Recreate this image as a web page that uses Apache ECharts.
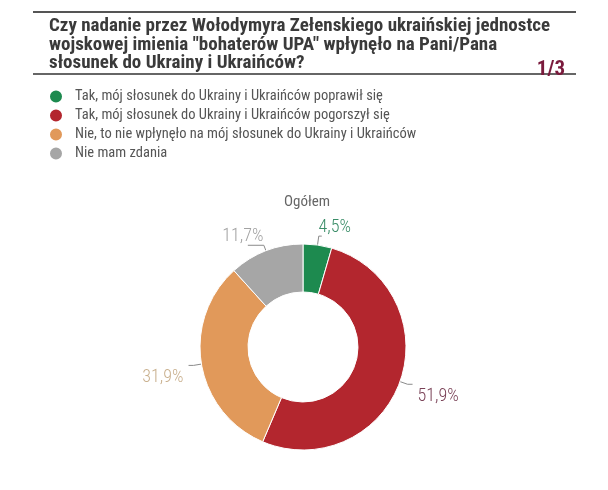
<!DOCTYPE html>
<html>
<head>
<meta charset="utf-8">
<script src="https://cdn.jsdelivr.net/npm/echarts@6/dist/echarts.min.js"></script>
<style>
  html, body { margin: 0; padding: 0; background: #fff; }
  #chart { width: 608px; height: 490px; }
</style>
</head>
<body>
<div id="chart"></div>
<script>
const categories = [
  'Tak, mój słosunek do Ukrainy i Ukraińców poprawił się',
  'Tak, mój słosunek do Ukrainy i Ukraińców pogorszył się',
  'Nie, to nie wpłynęło na mój słosunek do Ukrainy i Ukraińców',
  'Nie mam zdania'
]
const values = [4.5, 51.9, 31.9, 11.7]
const colors = ['#1d8a4f', '#b3262e', '#e1995a', '#a6a6a6']
const labelColors = ['#3a8d68', '#7a4257', '#c9b08e', '#a3a3a3']

const titleText = 'Czy nadanie przez Wołodymyra Zełenskiego ukraińskiej jednostce\nwojskowej imienia "bohaterów UPA" wpłynęło na Pani/Pana\nsłosunek do Ukrainy i Ukraińców?'
const pageText = '1/3'
const groupName = 'Ogółem'

const font = '"Liberation Sans Narrow", "Roboto Condensed", "Liberation Sans", sans-serif'

// label line lengths per slice (top labels sit above their tick)
const lineLen = [[9, 3], [8, 5], [8, 5], [6, 16]]

const chart = echarts.init(document.getElementById('chart'))

chart.setOption({
  backgroundColor: '#fff',
  animation: false,
  title: [
    {
      text: titleText,
      left: 44,
      top: 12,
      textStyle: { fontFamily: font, fontSize: 19, fontWeight: 'bold', color: '#3a3a3a', lineHeight: 18.5 }
    },
    {
      text: pageText,
      right: 38,
      top: 54,
      textStyle: { fontFamily: font, fontSize: 21, fontWeight: 'bold', color: '#7a1a3c' }
    },
    {
      text: groupName,
      left: 302,
      top: 190,
      textAlign: 'center',
      textStyle: { fontFamily: font, fontSize: 15, fontWeight: 'normal', color: '#666' }
    }
  ],
  graphic: [
    { type: 'rect', shape: { x: 33, y: 11, width: 543, height: 2 }, style: { fill: '#555' } },
    { type: 'rect', shape: { x: 33, y: 73, width: 543, height: 2 }, style: { fill: '#666' } }
  ],
  legend: {
    orient: 'vertical',
    left: 43,
    top: 83,
    icon: 'circle',
    itemWidth: 14,
    itemHeight: 14,
    itemGap: 2,
    selectedMode: false,
    data: categories,
    textStyle: { fontFamily: font, fontSize: 14.5, lineHeight: 17, color: '#555', padding: [0, 0, 0, 7] }
  },
  series: [
    {
      type: 'pie',
      center: [303, 347],
      radius: [55, 103],
      startAngle: 90,
      clockwise: true,
      itemStyle: { borderColor: '#fff', borderWidth: 1 },
      label: {
        show: true,
        position: 'outside',
        fontFamily: font,
        fontSize: 18,
        fontWeight: 300,
        formatter: p => p.value.toFixed(1).replace('.', ',') + '%'
      },
      labelLayout: p => {
        if (p.dataIndex === 0) return { align: 'center', verticalAlign: 'bottom', dx: 8 }
        if (p.dataIndex === 3) return { align: 'center', verticalAlign: 'bottom' }
        return { dy: 12 }
      },
      data: categories.map((name, i) => ({
        name,
        value: values[i],
        itemStyle: { color: colors[i] },
        label: { color: labelColors[i] },
        labelLine: {
          show: true,
          length: lineLen[i][0],
          length2: lineLen[i][1],
          lineStyle: { color: '#8a8a8a', width: 1 }
        }
      }))
    }
  ]
})
</script>
</body>
</html>
